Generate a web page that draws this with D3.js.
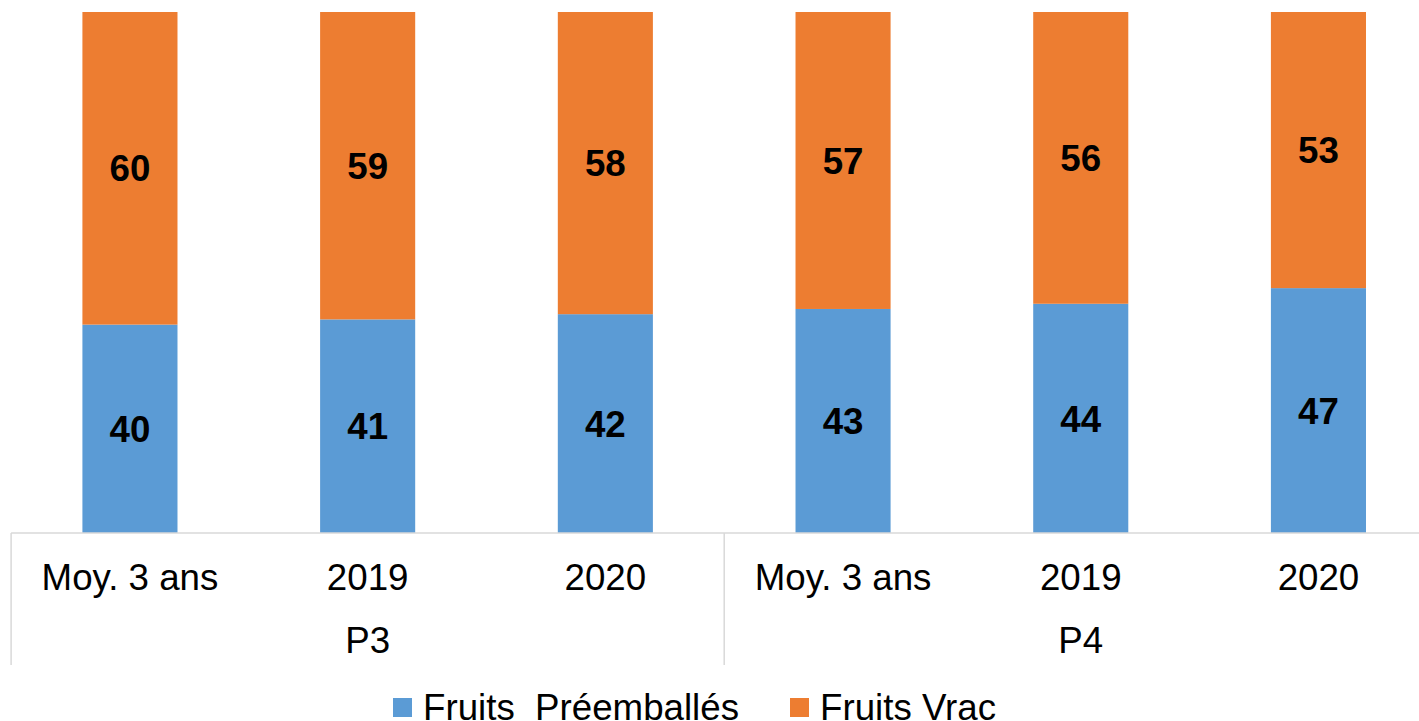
<!DOCTYPE html>
<html>
<head>
<meta charset="utf-8">
<script src="https://cdn.jsdelivr.net/npm/d3@7"></script>
<style>
  html, body { margin: 0; padding: 0; background: #fff; overflow: hidden; }
  svg { display: block; font-family: "Liberation Sans", Arial, sans-serif; }
</style>
</head>
<body>
<svg id="chart" width="1419" height="721"></svg>
<script>
const categories = ["Moy. 3 ans", "2019", "2020", "Moy. 3 ans", "2019", "2020"];
const groups = ["P3", "P4"];
const groupSize = 3;
const preemballes = [40, 41, 42, 43, 44, 47];
const vrac = [60, 59, 58, 57, 56, 53];
const seriesNames = ["Fruits  Préemballés", "Fruits Vrac"];
const seriesColors = ["#5B9BD5", "#ED7D31"];

const svg = d3.select("#chart");
const fs = 36.7;

const plotLeft = 11.1, plotRight = 1437.3, plotTop = 12, plotBottom = 533;

const x = d3.scaleBand()
  .domain(d3.range(categories.length))
  .range([plotLeft, plotRight])
  .paddingInner(0.6)
  .paddingOuter(0.3);

const y = d3.scaleLinear().domain([0, 100]).range([plotBottom, plotTop]);

const rows = categories.map((c, i) => ({ i, a: preemballes[i], b: vrac[i] }));
const stack = d3.stack().keys(["a", "b"]);
const stacked = stack(rows);

const gBars = svg.append("g");
stacked.forEach((layer, li) => {
  gBars.selectAll(null)
    .data(layer)
    .enter()
    .append("rect")
    .attr("x", d => x(d.data.i))
    .attr("width", x.bandwidth())
    .attr("y", d => y(d[1]))
    .attr("height", d => y(d[0]) - y(d[1]))
    .attr("fill", seriesColors[li]);

  gBars.selectAll(null)
    .data(layer)
    .enter()
    .append("text")
    .attr("x", d => x(d.data.i) + x.bandwidth() / 2)
    .attr("y", d => (y(d[0]) + y(d[1])) / 2 + fs * 0.358)
    .attr("text-anchor", "middle")
    .attr("font-weight", "bold")
    .attr("font-size", fs)
    .attr("fill", "#000")
    .text(d => d[1] - d[0]);
});

// Axis
const axisColor = "#D9D9D9";
const step = x.step();
svg.append("line")
  .attr("x1", plotLeft).attr("x2", plotRight)
  .attr("y1", plotBottom).attr("y2", plotBottom)
  .attr("stroke", axisColor).attr("stroke-width", 1.5);

const sepY2 = 665;
for (let g = 0; g <= groups.length; g++) {
  const xs = plotLeft + g * groupSize * step;
  svg.append("line")
    .attr("x1", xs).attr("x2", xs)
    .attr("y1", plotBottom).attr("y2", sepY2)
    .attr("stroke", axisColor).attr("stroke-width", 1.5);
}

svg.append("g").selectAll("text")
  .data(categories)
  .enter()
  .append("text")
  .attr("x", (d, i) => x(i) + x.bandwidth() / 2)
  .attr("y", 590)
  .attr("text-anchor", "middle")
  .attr("font-size", fs)
  .attr("fill", "#000")
  .text(d => d);

svg.append("g").selectAll("text")
  .data(groups)
  .enter()
  .append("text")
  .attr("x", (d, g) => plotLeft + (g * groupSize + groupSize / 2) * step)
  .attr("y", 653)
  .attr("text-anchor", "middle")
  .attr("font-size", fs)
  .attr("fill", "#000")
  .text(d => d);

// Legend
const legendX = [393, 790];
const legend = svg.append("g");
seriesNames.forEach((name, i) => {
  legend.append("rect")
    .attr("x", legendX[i]).attr("y", 698)
    .attr("width", 19).attr("height", 19)
    .attr("fill", seriesColors[i]);
  legend.append("text")
    .attr("x", legendX[i] + 30).attr("y", 720)
    .attr("font-size", fs)
    .attr("fill", "#000")
    .style("white-space", "pre")
    .attr("xml:space", "preserve")
    .text(name);
});
</script>
</body>
</html>
